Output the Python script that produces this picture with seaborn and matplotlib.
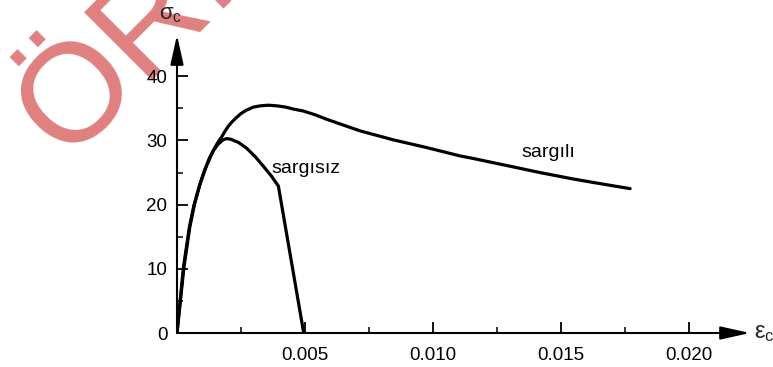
import numpy as np
import pandas as pd
import matplotlib
matplotlib.use("Agg")
import matplotlib.pyplot as plt
import seaborn as sns

# ---- data ----
unconf_strain = [0, 0.00027, 0.0005, 0.00068, 0.0009, 0.0011, 0.00126, 0.00142, 0.0016,
                 0.0018, 0.00194, 0.0021, 0.0024, 0.00272, 0.00305, 0.00337, 0.00368, 0.00396, 0.00495]
unconf_stress = [0, 10.2, 16.5, 20.0, 23.2, 25.5, 27.2, 28.4, 29.4,
                 30.1, 30.3, 30.2, 29.7, 28.8, 27.5, 26.0, 24.5, 22.9, 0]

conf_strain = [0, 0.00025, 0.00048, 0.00066, 0.00088, 0.00108, 0.0014, 0.00158, 0.00175, 0.0019,
               0.002, 0.00215, 0.00233, 0.0025, 0.0027, 0.00298, 0.00325, 0.00357, 0.0039,
               0.00425, 0.00454, 0.00493, 0.0054, 0.00585, 0.0065, 0.00715, 0.0078, 0.00845,
               0.0091, 0.00975, 0.0104, 0.01105, 0.01157, 0.01222, 0.01288, 0.01353, 0.01418,
               0.01483, 0.01548, 0.01613, 0.01679, 0.0177]
conf_stress = [0, 10.2, 16.4, 19.9, 23.0, 25.4, 28.3, 29.6, 30.6, 31.6,
               32.2, 32.9, 33.6, 34.2, 34.7, 35.2, 35.4, 35.5, 35.4,
               35.2, 34.9, 34.6, 34.0, 33.3, 32.4, 31.5, 30.8, 30.1,
               29.5, 28.9, 28.25, 27.6, 27.2, 26.65, 26.1, 25.55, 25.0,
               24.5, 24.0, 23.55, 23.1, 22.5]

x_major = [0.005, 0.010, 0.015, 0.020]
x_major_labels = ["0.005", "0.010", "0.015", "0.020"]
x_minor = [0.0025, 0.0075, 0.0125, 0.0175]
y_major = [0, 10, 20, 30, 40]
y_minor = [5, 15, 25, 35]

label_unconf = "sargısız"
label_conf = "sargılı"
watermark = "ÖRNEK"

df = pd.DataFrame({
    "strain": unconf_strain + conf_strain,
    "stress": unconf_stress + conf_stress,
    "curve": [label_unconf] * len(unconf_strain) + [label_conf] * len(conf_strain),
})

sns.set_theme(style="white")
plt.rcParams["font.family"] = ["Liberation Sans", "DejaVu Sans"]
plt.rcParams["mathtext.fontset"] = "custom"
plt.rcParams["mathtext.rm"] = "Liberation Sans"
plt.rcParams["mathtext.it"] = "Liberation Sans"

W, H = 773, 367
fig = plt.figure(figsize=(W / 100, H / 100), dpi=100)
fig.patch.set_facecolor("white")

# watermark behind everything
fig.text(66 / W, 1 - 160 / H, watermark, fontsize=101, color="#E08080",
         rotation=45, rotation_mode="anchor", ha="left", va="baseline", zorder=-5)

ax = fig.add_axes([177 / W, 34 / H, 573 / W, 298 / H])
ax.set_facecolor("none")

sns.lineplot(data=df, x="strain", y="stress", hue="curve", palette=["black", "black"],
             sort=False, estimator=None, legend=False, linewidth=2.3, ax=ax)

ax.set_xlim(0, 573 / 25600)
ax.set_ylim(0, 298 / 6.417)
ax.set_xlabel("")
ax.set_ylabel("")
for s in ax.spines.values():
    s.set_visible(False)

ax.set_xticks(x_major)
ax.set_xticklabels(x_major_labels)
ax.set_xticks(x_minor, minor=True)
ax.set_yticks(y_major)
ax.set_yticks(y_minor, minor=True)
ax.tick_params(axis="both", which="major", direction="in", length=8, width=1.3,
               labelsize=13.5, colors="black", bottom=True, left=True)
ax.tick_params(axis="both", which="minor", direction="in", length=4.3, width=1.3,
               bottom=True, left=True)
ax.tick_params(axis="x", which="major", pad=10)
ax.tick_params(axis="y", which="major", pad=7)
ax.grid(False)

# axis arrows
arrow_kw = dict(arrowstyle="-|>,head_length=0.9,head_width=0.2", color="black",
                lw=1.5, shrinkA=0, shrinkB=0, mutation_scale=20)
ax.annotate("", xy=(1, 0), xytext=(0, 0), xycoords="axes fraction",
            textcoords="axes fraction", arrowprops=arrow_kw, annotation_clip=False)
ax.annotate("", xy=(0, 1), xytext=(0, 0), xycoords="axes fraction",
            textcoords="axes fraction", arrowprops=arrow_kw, annotation_clip=False)

# curve labels
ax.text(0.0037, 25.0, label_unconf, fontsize=14, ha="left", va="baseline", color="black")
ax.text(0.01346, 27.4, label_conf, fontsize=14, ha="left", va="baseline", color="black")

# axis titles
fig.text(159 / W, 1 - 19 / H, r"$\sigma_c$", fontsize=16, ha="left", va="baseline")
fig.text(754 / W, 1 - 338 / H, r"$ε_c$", fontsize=17, ha="left", va="baseline")

fig.savefig("out.png", dpi=100)
